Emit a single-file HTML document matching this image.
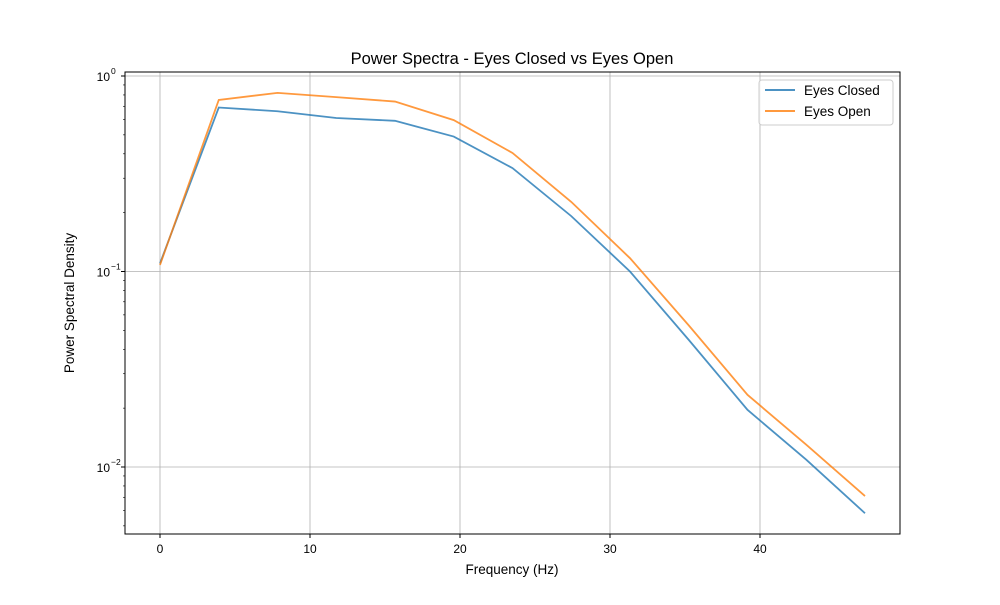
<!DOCTYPE html>
<html><head><meta charset="utf-8"><style>body{margin:0;background:#fff}svg{font-family:"Liberation Sans","DejaVu Sans",sans-serif}</style></head>
<body>
<svg id="chart" width="1000" height="600" viewBox="0 0 1000 600">
<rect width="1000" height="600" fill="#fff"/>
<text x="512" y="64" font-size="16.5" text-anchor="middle">Power Spectra - Eyes Closed vs Eyes Open</text>
<g id="grid"></g><g id="series"></g><g id="axes"></g>
<rect x="125" y="72" width="775" height="462" fill="none" stroke="#000" stroke-width="1"/>
<text x="512" y="574" font-size="13.5" text-anchor="middle">Frequency (Hz)</text>
<text transform="translate(74,303) rotate(-90)" font-size="13.5" text-anchor="middle">Power Spectral Density</text>
<g>
<rect x="759" y="80" width="134" height="45" rx="3" fill="#fff" fill-opacity="0.8" stroke="#ccc"/>
<line x1="765" y1="90" x2="795" y2="90" stroke="#1f77b4" stroke-opacity="0.8" stroke-width="2"/>
<text x="804" y="95" font-size="13.5">Eyes Closed</text>
<line x1="765" y1="111" x2="795" y2="111" stroke="#ff7f0e" stroke-opacity="0.8" stroke-width="2"/>
<text x="804" y="116" font-size="13.5">Eyes Open</text>
</g>
</svg>
<script>
const freqs=[0,3.917,7.833,11.75,15.667,19.583,23.5,27.417,31.333,35.25,39.167,43.083,47];
const eyesClosed=[0.110,0.69,0.66,0.61,0.59,0.49,0.338,0.192,0.1,0.0447,0.0196,0.0109,0.0058];
const eyesOpen=[0.108,0.754,0.82,0.78,0.74,0.595,0.404,0.227,0.117,0.053,0.0234,0.013,0.0071];
const xTicks=[0,10,20,30,40];
const yTicks=[1,0.1,0.01];
const yTickLabels=["10","10","10"];
const yTickExps=["0","\u22121","\u22122"];
const NS="http://www.w3.org/2000/svg";
const X=v=>160+v*15;
const Y=v=>76-Math.log10(v)*195.5;
function mk(t,a,p){const e=document.createElementNS(NS,t);for(const k in a)e.setAttribute(k,a[k]);p.appendChild(e);return e;}
const grid=document.getElementById('grid'),axes=document.getElementById('axes'),ser=document.getElementById('series');
xTicks.forEach(t=>{
 const g=mk('line',{x1:X(t),x2:X(t),y1:72,y2:534,stroke:'#b0b0b0','stroke-width':0.8},grid);
 
 
 mk('line',{x1:X(t),x2:X(t),y1:534,y2:538,stroke:'#000'},axes);
 const l=mk('text',{x:X(t),y:553,'font-size':12,'text-anchor':'middle'},axes);l.textContent=t;
 
 
});
yTicks.forEach((t,i)=>{
 const g=mk('line',{x1:125,x2:900,y1:Y(t),y2:Y(t),stroke:'#b0b0b0','stroke-width':0.8},grid);
 
 
 mk('line',{x1:121,x2:125,y1:Y(t),y2:Y(t),stroke:'#000'},axes);
 const l=mk('text',{x:110,y:Y(t)+5,'font-size':12,'text-anchor':'end'},axes);l.textContent=yTickLabels[i];
 
 
 const s=mk('text',{x:111,y:Y(t)-2,'font-size':8.5},axes);s.textContent=yTickExps[i];
});
for(let d=-3;d<=0;d++)for(let m=2;m<=9;m++){const v=m*Math.pow(10,d);const y=Y(v);if(y<72||y>534)continue;mk('line',{x1:123,x2:125,y1:y,y2:y,stroke:'#000','stroke-width':0.6},axes);}
function line(vals,color,name){
 const p=mk('polyline',{points:freqs.map((f,i)=>X(f)+','+Y(vals[i])).join(' '),fill:'none',stroke:color,'stroke-opacity':0.8,'stroke-width':1.8},ser);
 
 
}
line(eyesClosed,'#1f77b4','eyes-closed-line');
line(eyesOpen,'#ff7f0e','eyes-open-line');
</script>
</body></html>
